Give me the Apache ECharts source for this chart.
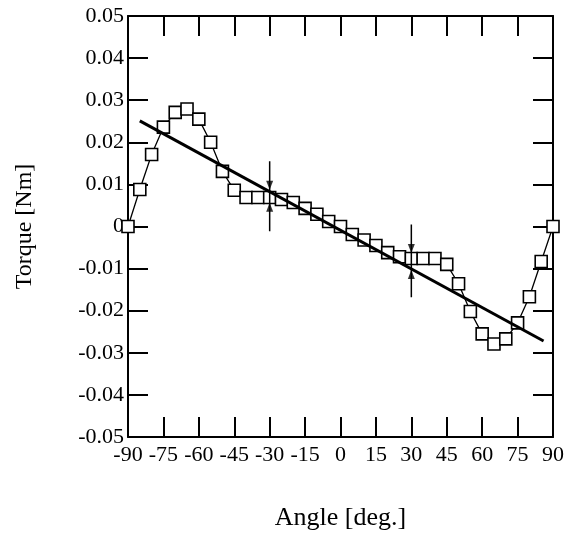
<!DOCTYPE html>
<html>
<head>
<meta charset="utf-8">
<script src="https://cdn.jsdelivr.net/npm/echarts@6/dist/echarts.min.js"></script>
<style>
html,body{margin:0;padding:0;background:#fff;}
#torque_chart{width:574px;height:542px;}
</style>
</head>
<body>
<div id="torque_chart"></div>
<script>
var angles = [-90,-85,-80,-75,-70,-65,-60,-55,-50,-45,-40,-35,-30,-25,-20,-15,-10,-5,0,
	5,10,15,20,25,30,35,40,45,50,55,60,65,70,75,80,85,90];
var torque = [0,0.0088,0.0171,0.0236,0.0271,0.0279,0.0255,0.0200,0.0131,0.0086,0.0069,0.0069,0.0069,
	0.0064,0.0057,0.0043,0.0029,0.0012,0,-0.0019,-0.0032,-0.0045,-0.0062,-0.0072,-0.0076,-0.0076,
	-0.0076,-0.0090,-0.0136,-0.0202,-0.0255,-0.0279,-0.0267,-0.0229,-0.0167,-0.0083,0];
// fitted straight line, two ends
var fitAngles = [-85,86];
var fitTorque = [0.0251,-0.0272];
// vertical range bars with arrow heads
var barAngles = [-30,30];
var barTop = [0.0155,0.0005];
var barBottom = [-0.0011,-0.0168];
var arrowDown = [0.0098,-0.0052];
var arrowUp = [0.0046,-0.0114];
var xTicks = [-90,-75,-60,-45,-30,-15,0,15,30,45,60,75,90];

var font = 'Liberation Serif';

function yLabel(v){
	if(Math.abs(v)<1e-9){
		return '0';
	}
	return v.toFixed(2);
}

var series = [];
var pts = [];
for(var i=0;i<angles.length;i++){
	pts.push([angles[i],torque[i]]);
}
series.push({
	type:'line',
	data:pts,
	symbol:'rect',
	symbolSize:12,
	lineStyle:{color:'#000',width:1.3},
	itemStyle:{color:'#fff',borderColor:'#000',borderWidth:1.6},
	z:2
});
var fit = [];
for(i=0;i<fitAngles.length;i++){
	fit.push([fitAngles[i],fitTorque[i]]);
}
series.push({
	type:'line',
	data:fit,
	symbol:'none',
	lineStyle:{color:'#000',width:3},
	z:4
});
var downPts = [], upPts = [];
for(i=0;i<barAngles.length;i++){
	series.push({
		type:'line',
		data:[[barAngles[i],barTop[i]],[barAngles[i],barBottom[i]]],
		symbol:'none',
		lineStyle:{color:'#000',width:1.5},
		z:5
	});
	downPts.push([barAngles[i],arrowDown[i]]);
	upPts.push([barAngles[i],arrowUp[i]]);
}
series.push({
	type:'scatter',
	data:downPts,
	symbol:'triangle',
	symbolRotate:180,
	symbolSize:[7,9],
	itemStyle:{color:'#000'},
	z:6
});
series.push({
	type:'scatter',
	data:upPts,
	symbol:'triangle',
	symbolSize:[7,9],
	itemStyle:{color:'#000'},
	z:6
});

var myChart = echarts.init(document.getElementById('torque_chart'));
var axisLine = {show:true,onZero:false,lineStyle:{color:'#000',width:2}};
var tick = {show:true,inside:true,length:20,lineStyle:{color:'#000',width:2}};
var option = {
	animation:false,
	backgroundColor:'#fff',
	grid:{left:128,right:21,top:16,bottom:105},
	xAxis:[
		{
			type:'value',
			min:xTicks[0],
			max:xTicks[xTicks.length-1],
			interval:15,
			name:'Angle [deg.]',
			nameLocation:'middle',
			nameGap:68,
			nameTextStyle:{color:'#000',fontFamily:font,fontSize:26},
			axisLine:axisLine,
			axisTick:tick,
			splitLine:{show:false},
			axisLabel:{color:'#000',fontFamily:font,fontSize:22,margin:7,hideOverlap:false,
				showMinLabel:true,showMaxLabel:true}
		},
		{
			type:'value',
			position:'top',
			min:-90,max:90,interval:15,
			axisLine:axisLine,
			axisTick:tick,
			splitLine:{show:false},
			axisLabel:{show:false}
		}
	],
	yAxis:[
		{
			type:'value',
			min:-0.05,
			max:0.05,
			interval:0.01,
			name:'Torque [Nm]',
			nameLocation:'middle',
			nameGap:91,
			nameRotate:90,
			nameTextStyle:{color:'#000',fontFamily:font,fontSize:24},
			axisLine:axisLine,
			axisTick:tick,
			splitLine:{show:false},
			axisLabel:{color:'#000',fontFamily:font,fontSize:22,margin:4,formatter:yLabel,
				showMinLabel:true,showMaxLabel:true}
		},
		{
			type:'value',
			position:'right',
			min:-0.05,max:0.05,interval:0.01,
			axisLine:axisLine,
			axisTick:tick,
			splitLine:{show:false},
			axisLabel:{show:false}
		}
	],
	series:series
};
myChart.setOption(option);
</script>
</body>
</html>
